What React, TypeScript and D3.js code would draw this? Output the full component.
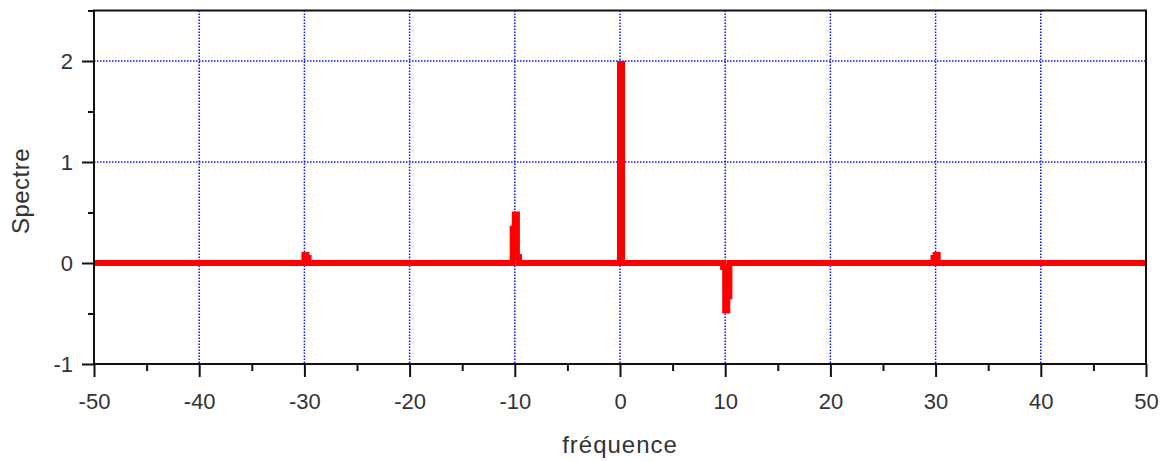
import { useEffect, useRef } from 'react';
import * as d3 from 'd3';

// spectrum samples (frequency, amplitude)
const freqs = [-50, -30.2, -30.0, -29.8, -29.6, -10.4, -10.2, -10.0, -9.8, -9.6, -0.2, 0.0, 0.2, 9.6, 9.8, 10.0, 10.2, 10.4, 29.6, 29.8, 30.0, 30.2, 50];
const spectre = [0, 0, 0.08, 0.05, 0, 0, 0.34, 0.48, 0.06, 0, 0, 1.97, 0, 0, -0.04, -0.47, -0.33, 0, 0, 0.05, 0.08, 0, 0];

const xMajor = [-50, -40, -30, -20, -10, 0, 10, 20, 30, 40, 50];
const xMinor = [-45, -35, -25, -15, -5, 5, 15, 25, 35, 45];
const yMajor = [-1, 0, 1, 2];
const yMinor = [-0.5, 0.5, 1.5, 2.5];

const W = 1164;
const H = 461;

export default function App() {
  const ref = useRef<SVGSVGElement>(null);

  useEffect(() => {
    const svg = d3.select(ref.current);
    svg.selectAll('*').remove();

    const x = d3.scaleLinear().domain([-50, 50]).range([94, 1146]);
    const y = d3.scaleLinear().domain([-1, 2.5]).range([364, 10.5]);
    const font = 'Liberation Sans, Arial, sans-serif';

    svg.append('rect').attr('width', W).attr('height', H).attr('fill', '#fff');

    // dotted grid
    const grid = svg.append('g').attr('stroke', '#1010ff').attr('stroke-width', 1.5).attr('stroke-dasharray', '1.5,1.5');
    grid.selectAll('line.v')
      .data(xMajor.filter((d) => d > -50 && d < 50))
      .enter()
      .append('line')
      .attr('x1', (d) => x(d))
      .attr('x2', (d) => x(d))
      .attr('y1', y(2.5))
      .attr('y2', y(-1));
    grid.selectAll('line.h')
      .data(yMajor.filter((d) => d > -1))
      .enter()
      .append('line')
      .attr('y1', (d) => y(d))
      .attr('y2', (d) => y(d))
      .attr('x1', x(-50))
      .attr('x2', x(50));

    // spectrum
    const line = d3.line<number>()
      .x((_, i) => x(freqs[i]))
      .y((d) => y(d))
      .curve(d3.curveStepAfter);
    svg.append('path')
      .datum(spectre)
      .attr('d', line)
      .attr('fill', 'none')
      .attr('stroke', '#ff0000')
      .attr('stroke-width', 6)
      .attr('stroke-linejoin', 'miter');

    // frame
    svg.append('rect')
      .attr('x', x(-50))
      .attr('y', y(2.5))
      .attr('width', x(50) - x(-50))
      .attr('height', y(-1) - y(2.5))
      .attr('fill', 'none')
      .attr('stroke', '#111')
      .attr('stroke-width', 2);

    // x axis
    const gx = svg.append('g').attr('transform', `translate(0,${y(-1)})`);
    gx.call(d3.axisBottom(x).tickValues(xMajor).tickSize(13).tickPadding(16).tickFormat((d) => String(d)));
    const gxm = svg.append('g').attr('transform', `translate(0,${y(-1)})`);
    gxm.call(d3.axisBottom(x).tickValues(xMinor).tickSize(7).tickFormat(() => ''));

    // y axis
    const gy = svg.append('g').attr('transform', `translate(${x(-50)},0)`);
    gy.call(d3.axisLeft(y).tickValues(yMajor).tickSize(12).tickPadding(9).tickFormat((d) => String(d)));
    const gym = svg.append('g').attr('transform', `translate(${x(-50)},0)`);
    gym.call(d3.axisLeft(y).tickValues(yMinor).tickSize(6).tickFormat(() => ''));

    [gx, gxm, gy, gym].forEach((g) => {
      g.select('.domain').remove();
      g.selectAll('.tick line').attr('stroke', '#111').attr('stroke-width', 2);
      g.selectAll('.tick text')
        .attr('fill', '#333')
        .style('font-family', font)
        .style('font-size', '22px');
    });

    svg.append('text')
      .attr('x', 620)
      .attr('y', 453)
      .attr('text-anchor', 'middle')
      .attr('fill', '#333')
      .style('font-family', font)
      .style('font-size', '24px')
      .style('letter-spacing', '1px')
      .text('fréquence');

    svg.append('text')
      .attr('transform', `translate(29,191) rotate(-90)`)
      .attr('text-anchor', 'middle')
      .attr('fill', '#333')
      .style('font-family', font)
      .style('font-size', '24px')
      .style('letter-spacing', '0.5px')
      .text('Spectre');
  }, []);

  return (
    <svg
      ref={ref}
      width={W}
      height={H}
      style={{ position: 'absolute', left: 0, top: 0, display: 'block' }}
    />
  );
}
